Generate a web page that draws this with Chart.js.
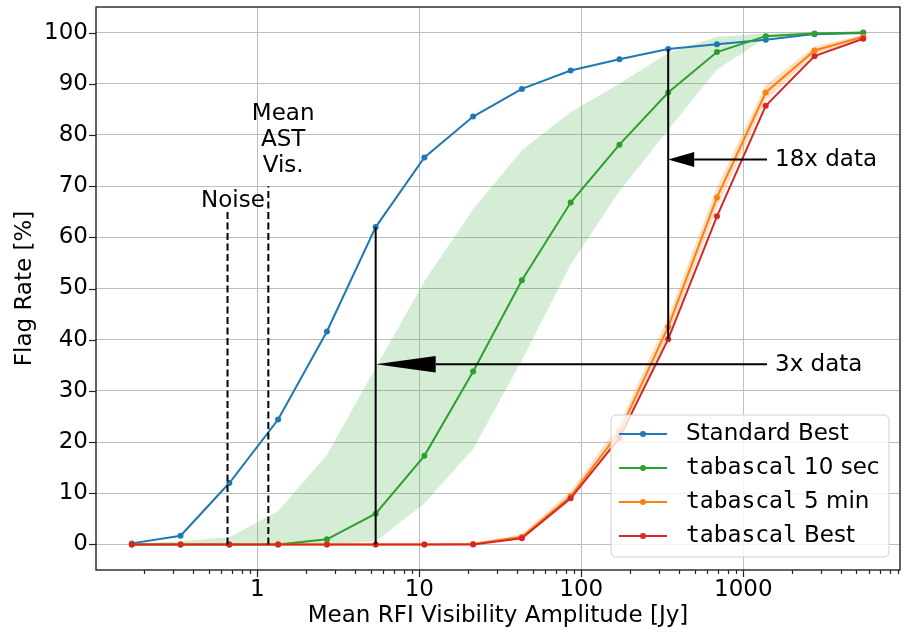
<!DOCTYPE html>
<html>
<head>
<meta charset="utf-8">
<script src="https://cdn.jsdelivr.net/npm/chart.js@4.4.1/dist/chart.umd.min.js"></script>
<style>
  html, body { margin: 0; padding: 0; background: #fff; overflow: hidden; }
  #wrap { width: 904px; height: 632px; }
</style>
</head>
<body>
<div id="wrap"><canvas id="flagChart" width="904" height="632"></canvas></div>
<script>
// Mean RFI visibility amplitude [Jy] for every measured point
const amplitudes = [0.168, 0.336, 0.672, 1.344, 2.69, 5.38, 10.75, 21.5, 43, 86, 172, 344, 688, 1376, 2753, 5505];

// Flag rates [%]
const standardBest = [0.2, 1.7, 12, 24.4, 41.6, 62, 75.6, 83.6, 89, 92.6, 94.8, 96.8, 97.7, 98.6, 99.7, 99.9];
const tab10sec     = [0, 0, 0, 0, 1.0, 6.0, 17.3, 33.8, 51.6, 66.8, 78.1, 88.3, 96.2, 99.3, 99.8, 100];
const tab10secHigh = [0.2, 0.6, 1.4, 6.5, 17.5, 34.5, 51.4, 65.5, 77, 84.5, 90, 96, 99.2, 99.8, 100, 100];
const tab10secLow  = [0, 0, 0, 0, 0, 0.6, 8.0, 18.7, 36, 54.7, 69, 81, 92.8, 99, 99.5, 99.8];
const tab5min      = [0, 0, 0, 0, 0, 0, 0, 0.1, 1.5, 9.4, 22, 42.5, 67.8, 88.3, 96.5, 99.2];
const tab5minHigh  = [0, 0, 0, 0, 0, 0, 0, 0.3, 2.0, 10.4, 23.5, 44.5, 69.8, 89.8, 97.3, 99.6];
const tab5minLow   = [0, 0, 0, 0, 0, 0, 0, 0, 1.0, 8.6, 20.5, 40.6, 65.8, 86.8, 95.7, 98.8];
const tabBest      = [0, 0, 0, 0, 0, 0, 0, 0, 1.2, 9.0, 20.8, 40.1, 64.1, 85.7, 95.4, 98.8];

// axis ticks
const yTicks = [0, 10, 20, 30, 40, 50, 60, 70, 80, 90, 100];
const xMajor = [0.1, 1, 10, 100, 1000];
const xLabelled = [1, 10, 100, 1000];

// annotation levels (data units)
const noiseLevel = 0.655;
const astLevel = 1.17;
const idx3x = 5;    // standard best vs tabascal best at 5.4 Jy
const idx18x = 11;  // ... and at 345 Jy
const arrow3xY = 35.2;
const arrow18xY = 75.2;
const arrowTextX = 1570;

const blue = '#1f77b4', green = '#2ca02c', orange = '#ff7f0e', red = '#d62728';
const gridColor = '#bebebe';
const sans = 'DejaVu Sans', mono = 'DejaVu Sans Mono';

Chart.defaults.font.family = sans;
Chart.defaults.font.size = 23;
Chart.defaults.color = '#000';

const xTickValues = [];
for (let e = -1; e <= 3; e++) {
  for (let m = 1; m <= 9; m++) xTickValues.push(m * Math.pow(10, e));
}

function pts(arr) {
  return amplitudes.map((x, i) => ({ x: x, y: arr[i] }));
}

function series(label, arr, color, order) {
  return {
    label: label,
    data: pts(arr),
    borderColor: color,
    backgroundColor: color,
    borderWidth: 2,
    pointRadius: 3,
    pointBorderWidth: 0,
    pointBackgroundColor: color,
    fill: false,
    tension: 0,
    order: order
  };
}

function band(arr, fillColor, fill, order) {
  return {
    label: '_band',
    data: pts(arr),
    borderWidth: 0,
    borderColor: 'rgba(0,0,0,0)',
    backgroundColor: fillColor,
    pointRadius: 0,
    fill: fill,
    tension: 0,
    order: order
  };
}

// no extra room for half tick labels, the frame is fixed
function noPad(scale) {
  scale.paddingTop = 0;
  scale.paddingBottom = 0;
  scale.paddingLeft = 0;
  scale.paddingRight = 0;
}

// dashed / solid markers, arrows and their texts
const annotations = {
  id: 'annotations',
  afterDatasetsDraw(chart) {
    const { ctx, scales: { x, y } } = chart;
    const vline = (xv, y0, y1) => {
      ctx.beginPath();
      ctx.moveTo(x.getPixelForValue(xv), y.getPixelForValue(y0));
      ctx.lineTo(x.getPixelForValue(xv), y.getPixelForValue(y1));
      ctx.stroke();
    };
    const arrow = (xv, yv, headLen, halfW, text) => {
      const tip = x.getPixelForValue(xv);
      const py = y.getPixelForValue(yv);
      const tx = x.getPixelForValue(arrowTextX);
      ctx.beginPath();
      ctx.moveTo(tip + headLen, py);
      ctx.lineTo(tx - 8, py);
      ctx.stroke();
      ctx.beginPath();
      ctx.moveTo(tip, py);
      ctx.lineTo(tip + headLen, py - halfW);
      ctx.lineTo(tip + headLen, py + halfW);
      ctx.closePath();
      ctx.fill();
      ctx.textAlign = 'left';
      ctx.textBaseline = 'middle';
      ctx.fillText(text, tx, py + 1);
    };

    ctx.save();
    ctx.strokeStyle = '#000';
    ctx.fillStyle = '#000';
    ctx.lineWidth = 2;
    ctx.setLineDash([7, 3.5]);
    vline(noiseLevel, 0, 65);
    vline(astLevel, 0, 70);
    ctx.setLineDash([]);
    vline(amplitudes[idx3x], tabBest[idx3x], standardBest[idx3x]);
    vline(amplitudes[idx18x], tabBest[idx18x], standardBest[idx18x]);

    ctx.font = '23px "' + sans + '"';
    arrow(amplitudes[idx3x], arrow3xY, 60, 8.3, '3x data');
    arrow(amplitudes[idx18x], arrow18xY, 26, 7.5, '18x data');

    ctx.textAlign = 'center';
    ctx.textBaseline = 'alphabetic';
    ctx.fillText('Noise', x.getPixelForValue(0.707), y.getPixelForValue(66));
    const ax = x.getPixelForValue(1.445);
    ['Mean', 'AST', 'Vis.'].forEach((s, i) => {
      ctx.fillText(s, ax, y.getPixelForValue(83) + i * 26);
    });
    ctx.restore();
  }
};

// axes frame, tick marks and legend box
const frame = {
  id: 'frame',
  afterDraw(chart) {
    const { ctx, chartArea: a, scales: { x, y } } = chart;
    ctx.save();
    ctx.strokeStyle = '#222';
    ctx.lineWidth = 1.2;
    yTicks.forEach(v => {
      const py = Math.round(y.getPixelForValue(v)) + 0.5;
      ctx.beginPath(); ctx.moveTo(a.left - 7, py); ctx.lineTo(a.left, py); ctx.stroke();
    });
    xTickValues.forEach(v => {
      if (v < x.min || v > x.max) return;
      const px = Math.round(x.getPixelForValue(v)) + 0.5;
      const len = xMajor.includes(v) ? 7 : 4;
      ctx.beginPath(); ctx.moveTo(px, a.bottom); ctx.lineTo(px, a.bottom + len); ctx.stroke();
    });
    ctx.lineWidth = 1.4;
    ctx.strokeRect(a.left, a.top, a.right - a.left, a.bottom - a.top);

    // legend
    const bx = a.right - 289, by = a.bottom - 155, bw = 278, bh = 142;
    ctx.beginPath();
    ctx.roundRect(bx, by, bw, bh, 5);
    ctx.fillStyle = 'rgba(255,255,255,0.8)';
    ctx.fill();
    ctx.strokeStyle = '#d0d0d0';
    ctx.lineWidth = 1;
    ctx.stroke();
    const items = chart.data.datasets.filter(d => d.label !== '_band');
    items.forEach((d, i) => {
      const ry = by + 19 + i * 34;
      ctx.strokeStyle = d.borderColor;
      ctx.fillStyle = d.borderColor;
      ctx.lineWidth = 2;
      ctx.beginPath(); ctx.moveTo(bx + 8, ry); ctx.lineTo(bx + 56, ry); ctx.stroke();
      ctx.beginPath(); ctx.arc(bx + 32, ry, 3, 0, Math.PI * 2); ctx.fill();
      ctx.fillStyle = '#000';
      ctx.textAlign = 'left';
      ctx.textBaseline = 'middle';
      let tx = bx + 75;
      let rest = d.label;
      if (rest.startsWith('tabascal')) {
        ctx.font = '23px "' + mono + '"';
        ctx.fillText('tabascal', tx, ry);
        tx += ctx.measureText('tabascal').width;
        rest = rest.slice(8);
      }
      ctx.font = '23px "' + sans + '"';
      ctx.fillText(rest, tx, ry);
    });
    ctx.restore();
  }
};

const chart = new Chart(document.getElementById('flagChart').getContext('2d'), {
  type: 'line',
  data: {
    datasets: [
      series('Standard Best', standardBest, blue, 3),
      band(tab10secHigh, 'rgba(44,160,44,0.2)', '+1', 20),
      band(tab10secLow, 'rgba(0,0,0,0)', false, 21),
      series('tabascal 10 sec', tab10sec, green, 2),
      band(tab5minHigh, 'rgba(255,127,14,0.25)', '+1', 10),
      band(tab5minLow, 'rgba(0,0,0,0)', false, 11),
      series('tabascal 5 min', tab5min, orange, 1),
      series('tabascal Best', tabBest, red, 0)
    ]
  },
  options: {
    responsive: false,
    animation: false,
    layout: { padding: { top: 7, right: 1, left: 0, bottom: 0 } },
    scales: {
      x: {
        type: 'logarithmic',
        min: 0.101,
        max: 9280,
        afterBuildTicks: (axis) => {
          axis.ticks = xTickValues.filter(v => v >= axis.min && v <= axis.max).map(v => ({ value: v }));
        },
        afterFit: (scale) => { scale.height = 62; noPad(scale); },
        ticks: {
          autoSkip: false,
          maxRotation: 0,
          padding: 6,
          callback: (v) => xLabelled.includes(v) ? String(v) : ''
        },
        grid: {
          drawTicks: false,
          lineWidth: 1,
          color: (c) => (c.tick && xMajor.includes(c.tick.value)) ? gridColor : 'rgba(0,0,0,0)'
        },
        border: { display: false },
        title: { display: true, text: 'Mean RFI Visibility Amplitude [Jy]', padding: { top: 0, bottom: 2 } }
      },
      y: {
        min: -5,
        max: 105,
        afterBuildTicks: (axis) => { axis.ticks = yTicks.map(v => ({ value: v })); },
        afterFit: (scale) => { scale.width = 96; noPad(scale); },
        ticks: { padding: 8 },
        grid: { drawTicks: false, lineWidth: 1, color: gridColor },
        border: { display: false },
        title: { display: true, text: 'Flag Rate [%]', padding: { top: 11, bottom: 0 } }
      }
    },
    plugins: {
      legend: { display: false },
      tooltip: { enabled: false }
    }
  },
  plugins: [annotations, frame]
});
</script>
</body>
</html>
